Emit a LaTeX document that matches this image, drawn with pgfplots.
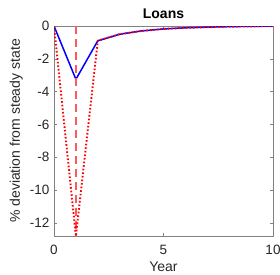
\documentclass[border=0pt]{standalone}
\usepackage{pgfplots}
\pgfplotsset{compat=1.18}
\usepackage{fontspec}
\setmainfont{Liberation Sans}
\definecolor{axgray}{RGB}{130,130,130}
\definecolor{mred}{RGB}{255,0,0}
\definecolor{lred}{RGB}{255,90,90}
\definecolor{txt}{RGB}{38,38,38}
\begin{document}
\begin{tikzpicture}
\begin{axis}[
  name=ax,
  at={(0,0)}, anchor=south west,
  scale only axis,
  width=219pt, height=210pt,
  xmin=0, xmax=10, ymin=-12.8, ymax=0,
  xtick={0,5,10}, ytick={-12,-10,-8,-6,-4,-2,0},
  tick align=inside,
  major tick length=3pt,
  axis line style={axgray, line width=0.7pt},
  tick style={axgray, line width=0.6pt},
  ticklabel style={font=\fontsize{13.5}{15}\selectfont, text=txt},
  xticklabel style={yshift=-6pt},
  yticklabel style={xshift=-1pt},
  /pgf/number format/assume math mode=true,
  xlabel={Year},
  ylabel={\% deviation from steady state},
  label style={font=\fontsize{14}{16}\selectfont, text=txt},
  xlabel style={at={(axis description cs:0.5,-0.145)}, anchor=center},
  ylabel style={at={(axis description cs:-0.172,0.5)}, anchor=center},
  title={\textbf{Loans}},
  title style={font=\fontsize{14}{16}\selectfont, at={(axis description cs:0.5,1.03)}, anchor=center, text=black},
  clip=true,
]
\addplot[blue, line width=1.5pt] coordinates {
(0,0) (1,-3.25) (2,-0.9) (3,-0.5) (4,-0.3) (5,-0.18) (6,-0.11) (7,-0.07) (8,-0.04) (9,-0.02) (10,-0.01)};
\addplot[lred, line width=1.4pt, dash pattern=on 8pt off 5pt] coordinates {(1,0) (1,-12.8)};
\addplot[mred, line width=1.9pt, dash pattern=on 1.6pt off 2pt] coordinates {
(0,0) (1,-12.8) (2,-0.9) (3,-0.5) (4,-0.3) (5,-0.18) (6,-0.11) (7,-0.07) (8,-0.04) (9,-0.02) (10,-0.01)};
\end{axis}
\pgfresetboundingbox
\path[use as bounding box] (-54pt,-38pt) rectangle (226pt,236pt);
\end{tikzpicture}
\end{document}
